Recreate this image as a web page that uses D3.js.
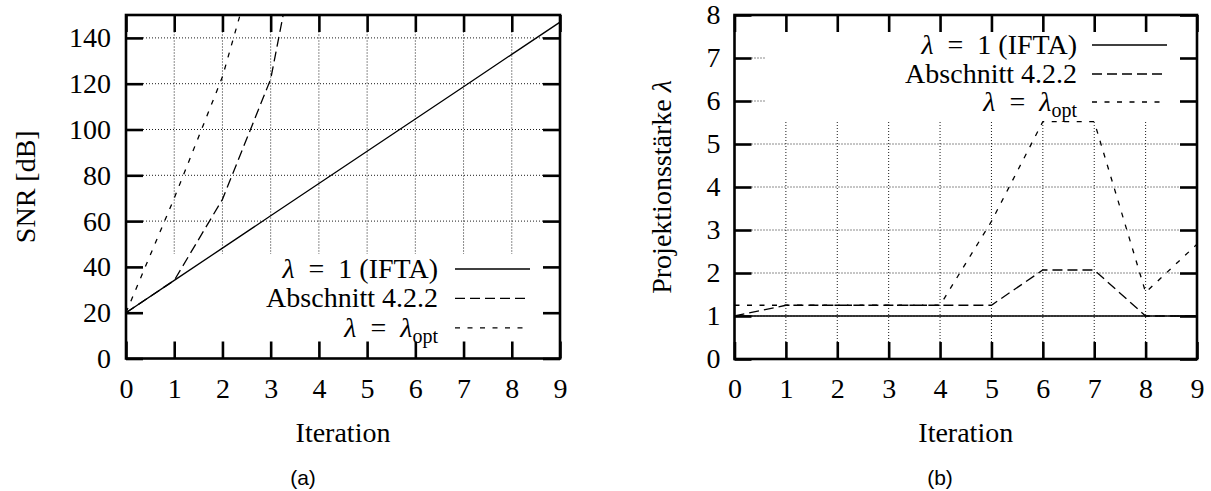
<!DOCTYPE html>
<html>
<head>
<meta charset="utf-8">
<script src="https://cdn.jsdelivr.net/npm/d3@7"></script>
<style>
  html, body { margin: 0; padding: 0; background: #fff; }
  svg { display: block; }
</style>
</head>
<body>
<svg id="chart" width="1211" height="491"></svg>
<script>
// ---------- data ----------
const iterations = [0, 1, 2, 3, 4, 5, 6, 7, 8, 9];
const snrTicks = [0, 20, 40, 60, 80, 100, 120, 140];
const lamTicks = [0, 1, 2, 3, 4, 5, 6, 7, 8];

// (a) SNR [dB]
const snrIFTA = [20, 34.1, 48.2, 62.3, 76.4, 90.5, 104.6, 118.7, 132.8, 146.9];
const snrAbschnitt = [20, 34.1, 69.5, 122, 230];
const snrOpt = [20, 70, 123, 197];

// (b) Projektionsstärke
const lamIFTA = [1, 1, 1, 1, 1, 1, 1, 1, 1, 1];
const lamAbschnitt = [1, 1.25, 1.25, 1.25, 1.25, 1.25, 2.07, 2.07, 1, 1];
const lamOpt = [1.25, 1.25, 1.25, 1.25, 1.25, 3.2, 5.52, 5.52, 1.55, 2.67];

const legendLabels = ["IFTA", "Abschnitt 4.2.2", "opt"];

// ---------- drawing ----------
const svg = d3.select("#chart");
const SERIF = "'Liberation Serif', 'Times New Roman', serif";
const FS = 28;
const TICK = 17;

const styles = [
  { dash: null },
  { dash: "10,5" },
  { dash: "5,7.5" }
];

function legendText(sel, i) {
  if (i === 0) {
    sel.append("tspan").attr("font-style", "italic").text("λ");
    sel.append("tspan").text("\u2002=\u20021 (" + legendLabels[0] + ")");
  } else if (i === 1) {
    sel.text(legendLabels[1]);
  } else {
    sel.append("tspan").attr("font-style", "italic").text("λ");
    sel.append("tspan").text("\u2002=\u2002");
    sel.append("tspan").attr("font-style", "italic").text("λ");
    sel.append("tspan").attr("font-size", 20).attr("dy", 6).text(legendLabels[2]);
  }
}

function panel(cfg) {
  const { id, x, y, xTicks, yTicks, series, ylabel, ylabelX, yPad, mask, legend, caption } = cfg;
  const g = svg.append("g");
  const [x0, x1] = x.range();
  const [y0, y1] = y.range(); // y0 bottom, y1 top

  // grid
  const grid = g.append("g").attr("stroke", "#000").attr("stroke-width", 0.9)
    .attr("stroke-dasharray", "1,2");
  grid.selectAll("line.h").data(yTicks.filter(v => y(v) < y0 - 1 && y(v) > y1 + 1)).join("line")
    .attr("x1", x0 + TICK).attr("x2", x1 - TICK)
    .attr("y1", d => y(d)).attr("y2", d => y(d));
  grid.selectAll("line.v").data(xTicks.filter(v => x(v) > x0 + 1 && x(v) < x1 - 1)).join("line")
    .attr("class", "v")
    .attr("y1", y0 - TICK).attr("y2", y1 + TICK)
    .attr("x1", d => x(d)).attr("x2", d => x(d));

  // mask (key area hides the grid)
  g.append("rect").attr("x", mask[0]).attr("y", mask[1])
    .attr("width", mask[2] - mask[0]).attr("height", mask[3] - mask[1])
    .attr("fill", "#fff");

  // axes
  const axL = g.append("g").attr("transform", `translate(${x0},0)`)
    .call(d3.axisLeft(y).tickValues(yTicks).tickSize(-TICK).tickPadding(yPad));
  const axB = g.append("g").attr("transform", `translate(0,${y0})`)
    .call(d3.axisBottom(x).tickValues(xTicks).tickSize(-TICK).tickPadding(19.5));
  const axT = g.append("g").attr("transform", `translate(0,${y1})`)
    .call(d3.axisTop(x).tickValues(xTicks).tickSize(-TICK).tickFormat(""));
  const axR = g.append("g").attr("transform", `translate(${x1},0)`)
    .call(d3.axisRight(y).tickValues(yTicks).tickSize(-TICK).tickFormat(""));
  [axL, axB, axT, axR].forEach(a => {
    a.select(".domain").remove();
    a.attr("font-family", SERIF).attr("font-size", FS);
    a.selectAll(".tick line").attr("stroke", "#000").attr("stroke-width", 2.6);
    a.selectAll(".tick text").attr("fill", "#000");
  });

  // data lines
  const clipId = "clip" + id;
  g.append("clipPath").attr("id", clipId).append("rect")
    .attr("x", x0).attr("y", y1).attr("width", x1 - x0).attr("height", y0 - y1);
  const lines = g.append("g").attr("clip-path", `url(#${clipId})`);
  const lineGen = d3.line().x((d, i) => x(iterations[i])).y(d => y(d));
  series.forEach((s, i) => {
    lines.append("path").datum(s).attr("d", lineGen)
      .attr("fill", "none").attr("stroke", "#000").attr("stroke-width", 1.3)
      .attr("stroke-dasharray", styles[i].dash);
  });

  // legend
  legend.rows.forEach((ly, i) => {
    const t = g.append("text").attr("x", legend.textX).attr("y", ly + 9)
      .attr("text-anchor", "end").attr("font-family", SERIF).attr("font-size", FS);
    legendText(t, i);
    g.append("line").attr("x1", legend.lineX[0]).attr("x2", legend.lineX[1])
      .attr("y1", ly).attr("y2", ly)
      .attr("stroke", "#000").attr("stroke-width", 1.3)
      .attr("stroke-dasharray", styles[i].dash);
  });

  // frame
  g.append("rect").attr("x", x0).attr("y", y1).attr("width", x1 - x0).attr("height", y0 - y1)
    .attr("fill", "none").attr("stroke", "#000").attr("stroke-width", 2.6);

  // axis titles
  g.append("text").attr("x", (x0 + x1) / 2).attr("y", 442).attr("text-anchor", "middle")
    .attr("font-family", SERIF).attr("font-size", FS).text("Iteration");
  const yl = g.append("text")
    .attr("transform", `translate(${ylabelX},${(y0 + y1) / 2}) rotate(-90)`)
    .attr("text-anchor", "middle").attr("font-family", SERIF).attr("font-size", FS);
  ylabel(yl);

  g.append("text").attr("x", caption).attr("y", 485).attr("text-anchor", "middle")
    .attr("font-family", "'Liberation Sans', Arial, sans-serif").attr("font-size", 21)
    .text(id === "a" ? "(a)" : "(b)");
}

const xA = d3.scaleLinear().domain([0, 9]).range([126, 560]);
const yA = d3.scaleLinear().domain([0, 150]).range([358.5, 15]);
panel({
  id: "a", x: xA, y: yA, xTicks: iterations, yTicks: snrTicks,
  series: [snrIFTA, snrAbschnitt, snrOpt],
  ylabel: t => t.text("SNR [dB]"), ylabelX: 35, yPad: 15,
  mask: [127.5, 254, 558.5, 357],
  legend: { rows: [269, 298.4, 327.8], textX: 438, lineX: [455, 530] },
  caption: 303
});

const xB = d3.scaleLinear().domain([0, 9]).range([734.5, 1197]);
const yB = d3.scaleLinear().domain([0, 8]).range([359, 15]);
panel({
  id: "b", x: xB, y: yB, xTicks: iterations, yTicks: lamTicks,
  series: [lamIFTA, lamAbschnitt, lamOpt],
  ylabel: t => { t.append("tspan").text("Projektionsstärke "); t.append("tspan").attr("font-style", "italic").text("λ"); },
  ylabelX: 671, yPad: 14,
  mask: [765, 16.5, 1195.5, 121],
  legend: { rows: [45, 74, 102], textX: 1077, lineX: [1092, 1167] },
  caption: 940
});
</script>
</body>
</html>
